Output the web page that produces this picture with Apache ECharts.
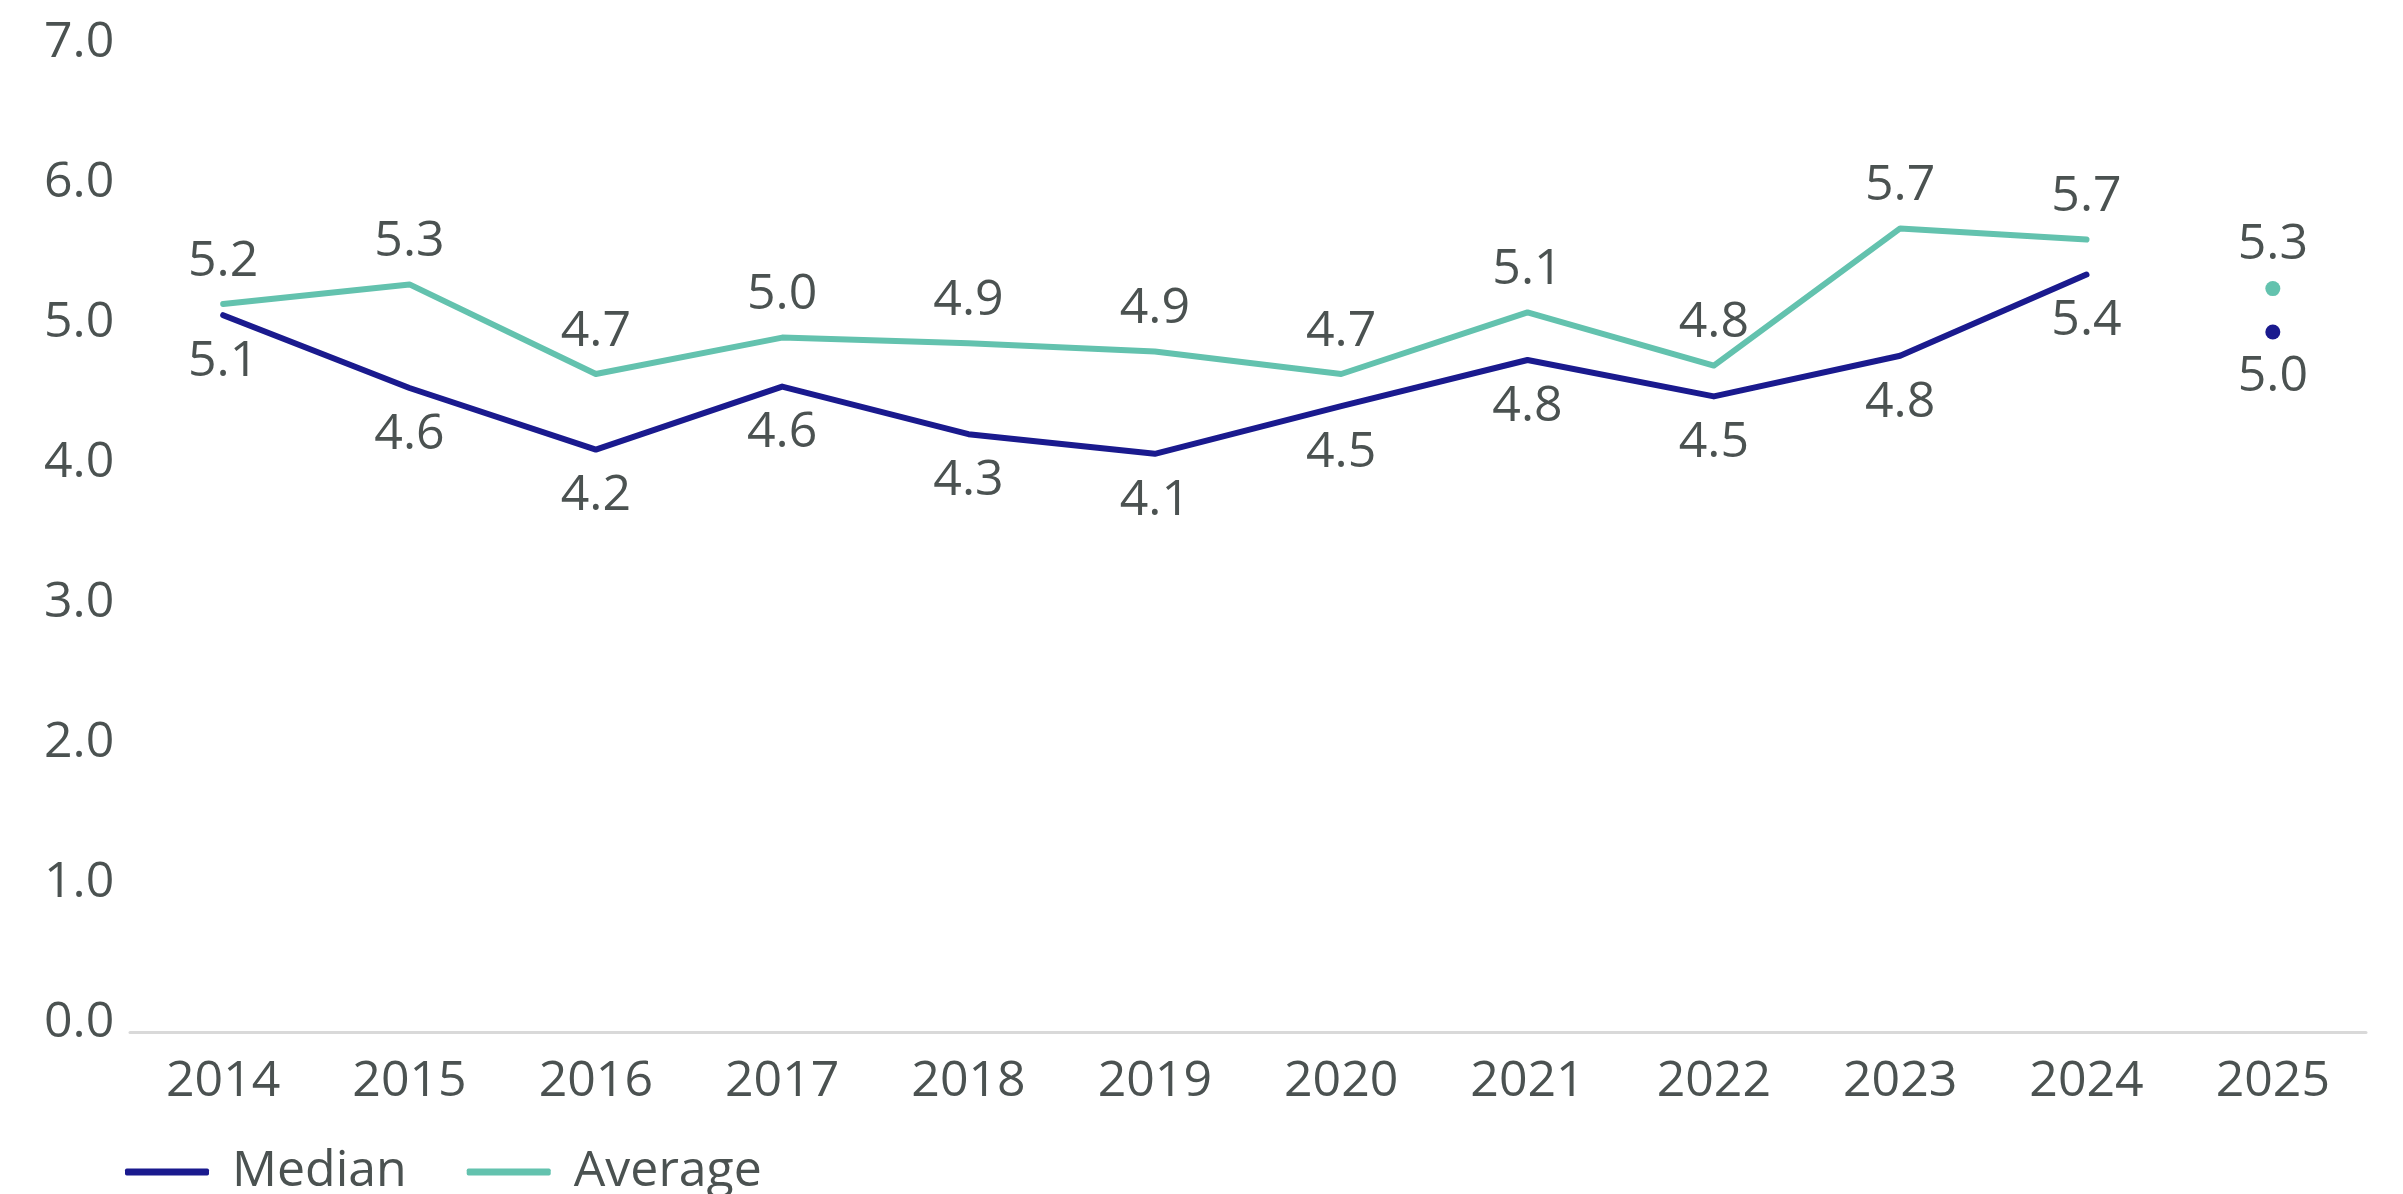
<!DOCTYPE html>
<html>
<head>
<meta charset="utf-8">
<script src="https://cdn.jsdelivr.net/npm/echarts@6/dist/echarts.min.js"></script>
<style>
html,body{margin:0;padding:0;background:#fff;}
#chart{width:2403px;height:1194px;}
</style>
</head>
<body>
<div id="chart"></div>
<script>
const years = ['2014','2015','2016','2017','2018','2019','2020','2021','2022','2023','2024','2025'];
const medianLine = [5.12, 4.60, 4.16, 4.61, 4.27, 4.13, 4.47, 4.80, 4.54, 4.83, 5.41, '-'];
const averageLine = [5.20, 5.34, 4.70, 4.96, 4.92, 4.86, 4.70, 5.14, 4.76, 5.74, 5.66, '-'];
const medianPoint = ['-', '-', '-', '-', '-', '-', '-', '-', '-', '-', '-', 5.00];
const averagePoint = ['-', '-', '-', '-', '-', '-', '-', '-', '-', '-', '-', 5.31];
const yTicks = [0, 1, 2, 3, 4, 5, 6, 7];

const FONT = 'Open Sans';
const TXT = '#4b5251';
const NAVY = '#1a1a8e';
const TEAL = '#63c2ae';
const FS = 50;

const chart = echarts.init(document.getElementById('chart'));
const lbl = (pos, dist) => ({
  show: true, position: pos, distance: dist,
  color: TXT, fontFamily: FONT, fontSize: FS,
  formatter: p => Number(p.value).toFixed(1)
});
chart.setOption({
  animation: false,
  grid: {left: 130, right: 37, top: 52, bottom: 162},
  legend: {
    data: ['Median', 'Average'],
    left: 120, bottom: -8,
    itemWidth: 84, itemHeight: 7, itemGap: 60,
    icon: 'roundRect',
    textStyle: {color: TXT, fontFamily: FONT, fontSize: FS, padding: [0, 0, 0, 18]}
  },
  xAxis: {
    type: 'category', data: years, boundaryGap: true,
    axisLine: {lineStyle: {color: '#d9d9d9', width: 3}},
    axisTick: {show: false},
    axisLabel: {color: TXT, fontFamily: FONT, fontSize: FS, margin: 25}
  },
  yAxis: {
    type: 'value', min: yTicks[0], max: yTicks[yTicks.length - 1], interval: 1,
    splitLine: {show: false}, axisLine: {show: false}, axisTick: {show: false},
    axisLabel: {color: TXT, fontFamily: FONT, fontSize: FS, align: 'left', margin: 86,
      verticalAlign: 'bottom', lineHeight: 18, formatter: v => v.toFixed(1)}
  },
  series: [
    {name: 'Median', type: 'line', data: medianLine, color: NAVY,
      lineStyle: {width: 6, cap: 'round', join: 'round'},
      showSymbol: true, symbol: 'circle', symbolSize: 1,
      label: lbl('bottom', 21)},
    {name: 'Average', type: 'line', data: averageLine, color: TEAL,
      lineStyle: {width: 6, cap: 'round', join: 'round'},
      showSymbol: true, symbol: 'circle', symbolSize: 1,
      label: lbl('top', 17)},
    {name: 'Median 2025', type: 'line', data: medianPoint, color: NAVY,
      showSymbol: true, symbol: 'circle', symbolSize: 15,
      label: lbl('bottom', 12)},
    {name: 'Average 2025', type: 'line', data: averagePoint, color: TEAL,
      showSymbol: true, symbol: 'circle', symbolSize: 15,
      label: lbl('top', 11)}
  ]
});
</script>
</body>
</html>
